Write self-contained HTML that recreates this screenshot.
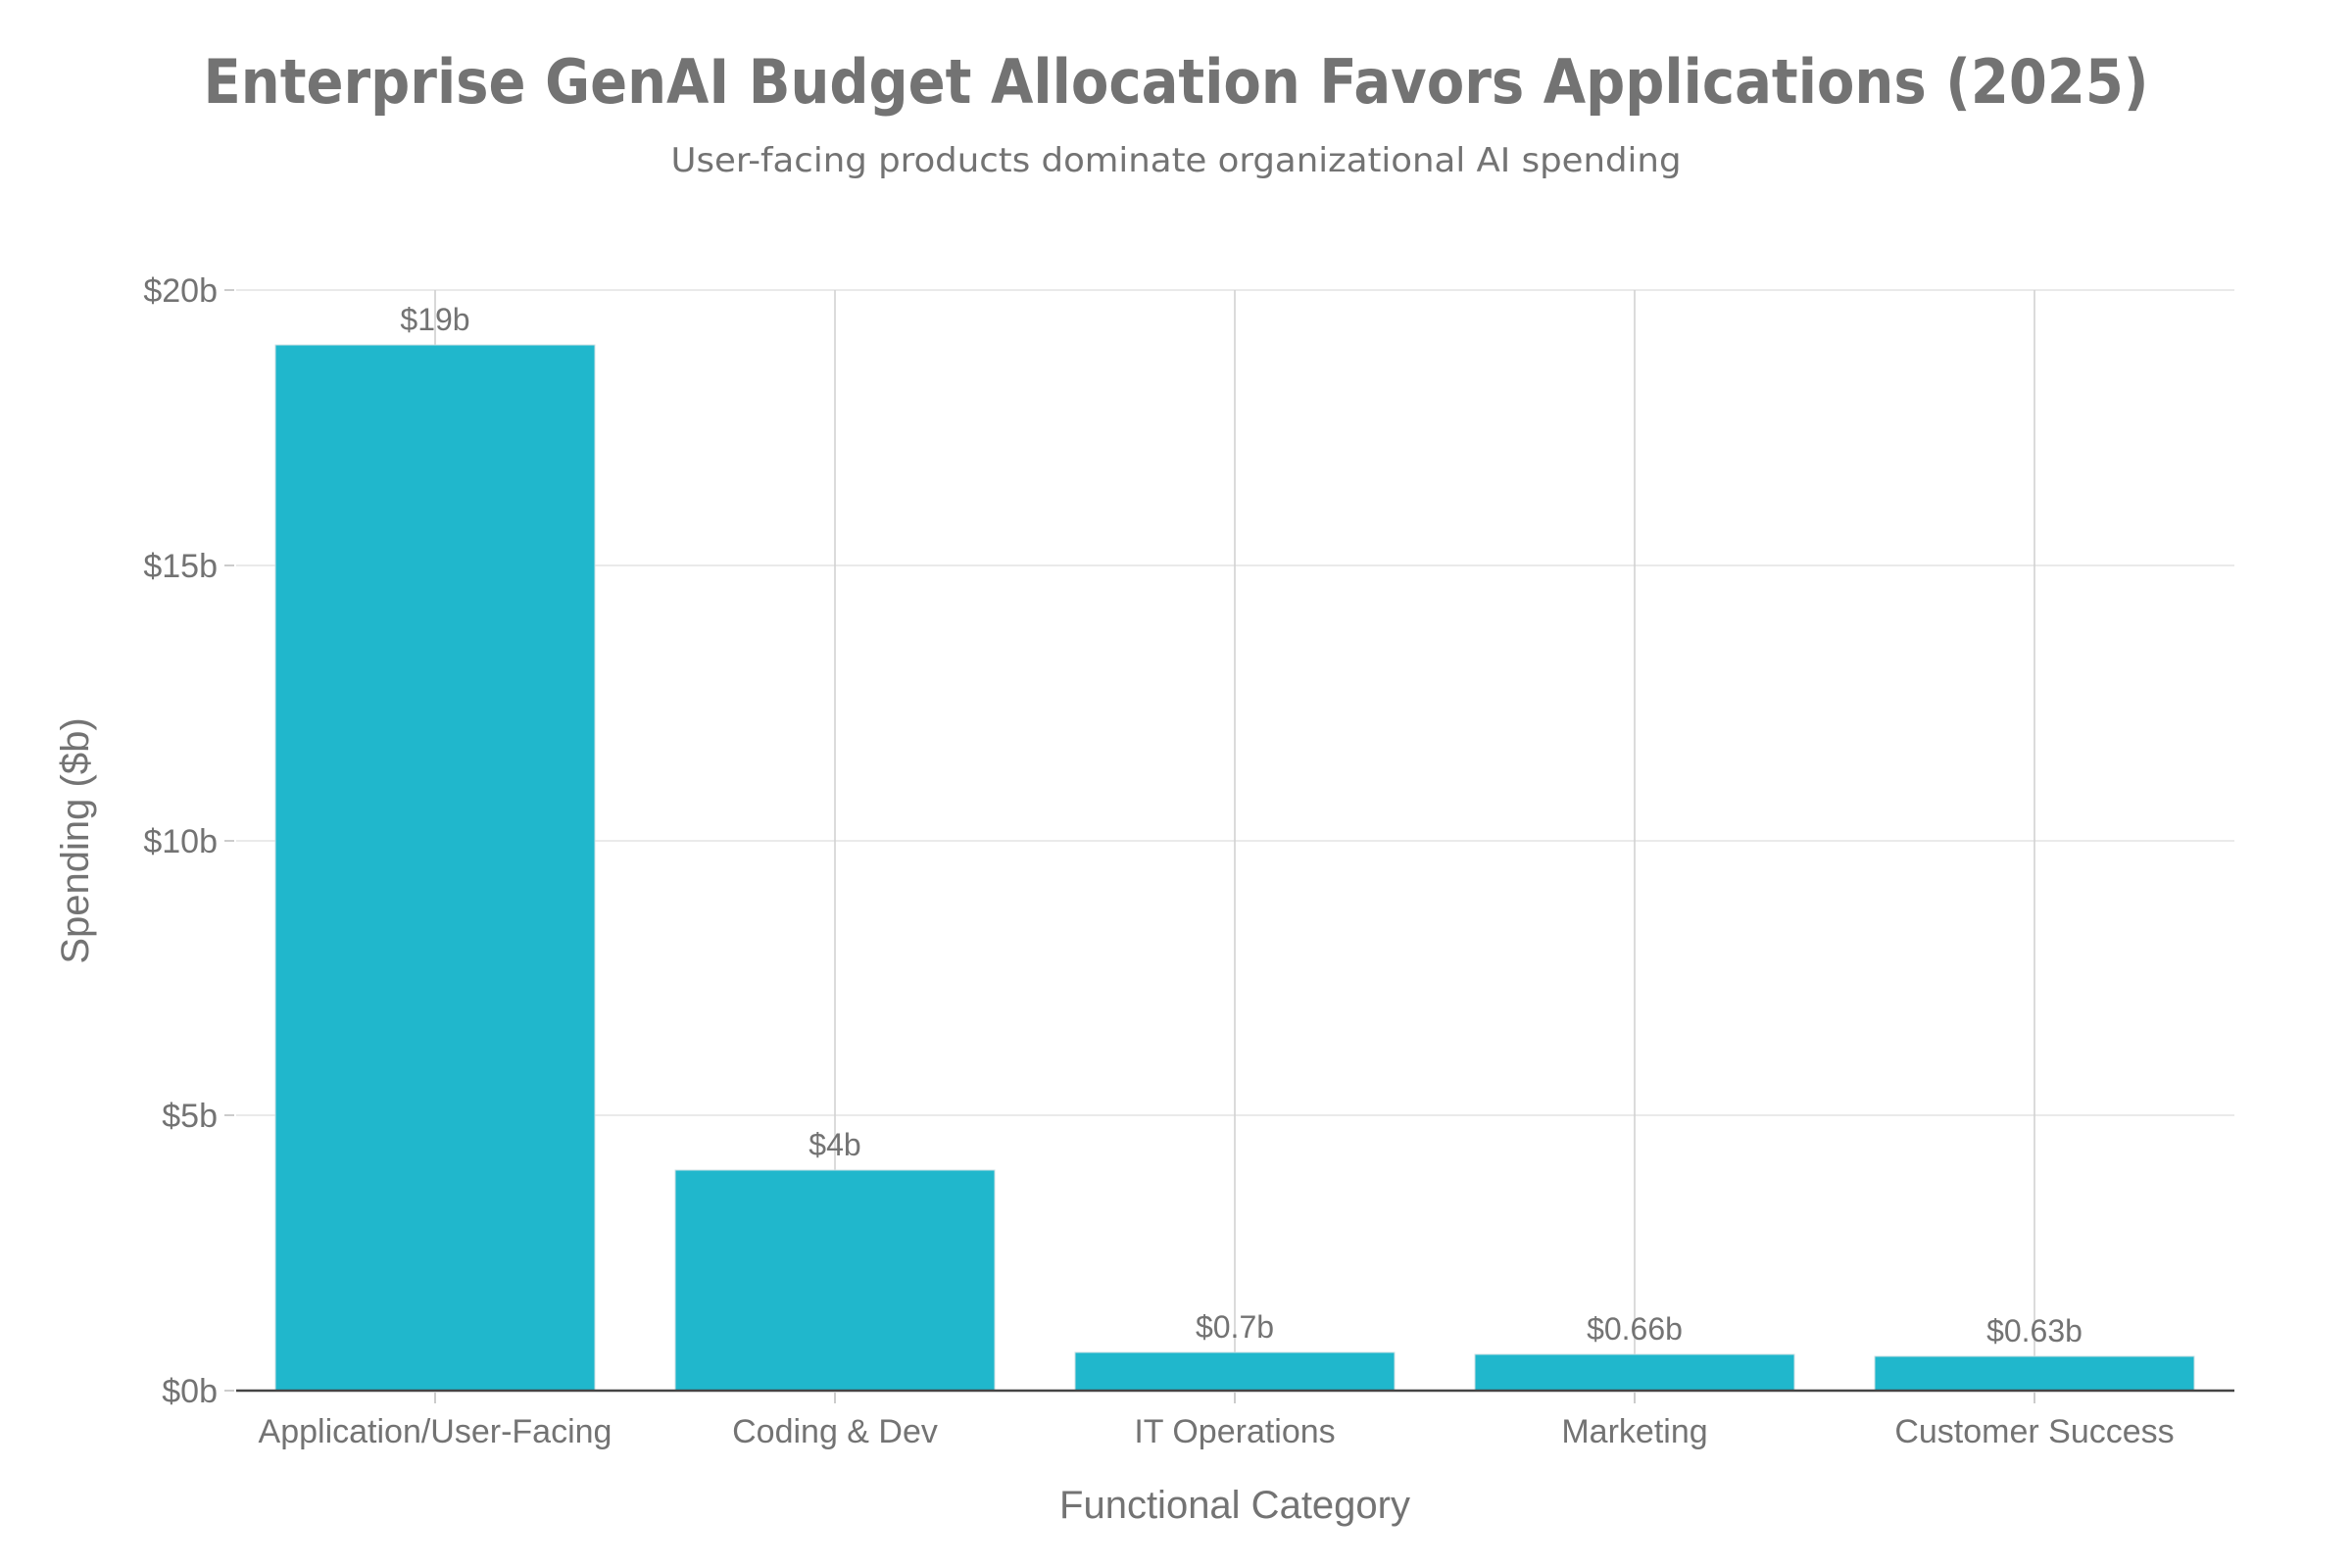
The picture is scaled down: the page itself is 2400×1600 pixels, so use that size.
<!DOCTYPE html>
<html><head><meta charset="utf-8"><style>html,body{margin:0;padding:0;background:#fff}svg{display:block}</style></head>
<body>
<svg width="2400" height="1600" viewBox="0 0 2400 1600" xmlns="http://www.w3.org/2000/svg">
<rect width="2400" height="1600" fill="#fff"/>
<text x="1200" y="105" text-anchor="middle" font-family="DejaVu Sans, Liberation Sans, sans-serif" font-weight="bold" font-size="62" fill="#737373" textLength="1985" lengthAdjust="spacingAndGlyphs">Enterprise GenAI Budget Allocation Favors Applications (2025)</text>
<text x="1200" y="175" text-anchor="middle" font-family="DejaVu Sans, Liberation Sans, sans-serif" font-size="34" fill="#737373" textLength="1031" lengthAdjust="spacingAndGlyphs">User-facing products dominate organizational AI spending</text>
<g stroke="#e3e3e3" stroke-width="1.5">
<line x1="241" x2="2280" y1="296" y2="296"/>
<line x1="241" x2="2280" y1="577" y2="577"/>
<line x1="241" x2="2280" y1="858" y2="858"/>
<line x1="241" x2="2280" y1="1138" y2="1138"/>
</g>
<g stroke="#cfcfcf" stroke-width="1.5">
<line x1="444" x2="444" y1="296" y2="1419"/>
<line x1="852" x2="852" y1="296" y2="1419"/>
<line x1="1260" x2="1260" y1="296" y2="1419"/>
<line x1="1668" x2="1668" y1="296" y2="1419"/>
<line x1="2076" x2="2076" y1="296" y2="1419"/>
<g stroke="#ccc" stroke-width="2">
<line x1="229" x2="239" y1="296" y2="296"/><line x1="229" x2="239" y1="577" y2="577"/><line x1="229" x2="239" y1="858" y2="858"/><line x1="229" x2="239" y1="1138" y2="1138"/><line x1="229" x2="239" y1="1419" y2="1419"/>
<line x1="444" x2="444" y1="1421" y2="1432"/><line x1="852" x2="852" y1="1421" y2="1432"/><line x1="1260" x2="1260" y1="1421" y2="1432"/><line x1="1668" x2="1668" y1="1421" y2="1432"/><line x1="2076" x2="2076" y1="1421" y2="1432"/>
</g>
</g>
<g fill="#20b7cc" stroke="#c9dfe3" stroke-width="1">
<rect x="281" y="352" width="326" height="1067"/>
<rect x="689" y="1194" width="326" height="225"/>
<rect x="1097" y="1380" width="326" height="39"/>
<rect x="1505" y="1382" width="326" height="37"/>
<rect x="1913" y="1384" width="326" height="35"/>
</g>
<g stroke="#cfcfcf" stroke-width="1.5" opacity="0.6">
<line x1="444" x2="444" y1="296" y2="352"/>
</g>
<line x1="241" x2="2280" y1="1419" y2="1419" stroke="#444" stroke-width="2.5"/>
<g font-family="Liberation Sans, sans-serif" font-size="34" fill="#737373" text-anchor="end">
<text x="222" y="308">$20b</text>
<text x="222" y="589">$15b</text>
<text x="222" y="870">$10b</text>
<text x="222" y="1150">$5b</text>
<text x="222" y="1431">$0b</text>
</g>
<g font-family="Liberation Sans, sans-serif" font-size="32" fill="#737373" text-anchor="middle">
<text x="444" y="337">$19b</text>
<text x="852" y="1179">$4b</text>
<text x="1260" y="1365">$0.7b</text>
<text x="1668" y="1367">$0.66b</text>
<text x="2076" y="1369">$0.63b</text>
</g>
<g font-family="Liberation Sans, sans-serif" font-size="34" fill="#737373" text-anchor="middle">
<text x="444" y="1472">Application/User-Facing</text>
<text x="852" y="1472">Coding &amp; Dev</text>
<text x="1260" y="1472">IT Operations</text>
<text x="1668" y="1472">Marketing</text>
<text x="2076" y="1472">Customer Success</text>
</g>
<text x="1260" y="1549" text-anchor="middle" font-family="Liberation Sans, sans-serif" font-size="40" fill="#737373">Functional Category</text>
<text transform="translate(90,858) rotate(-90)" text-anchor="middle" font-family="Liberation Sans, sans-serif" font-size="40" fill="#737373">Spending ($b)</text>
</svg>
</body></html>
